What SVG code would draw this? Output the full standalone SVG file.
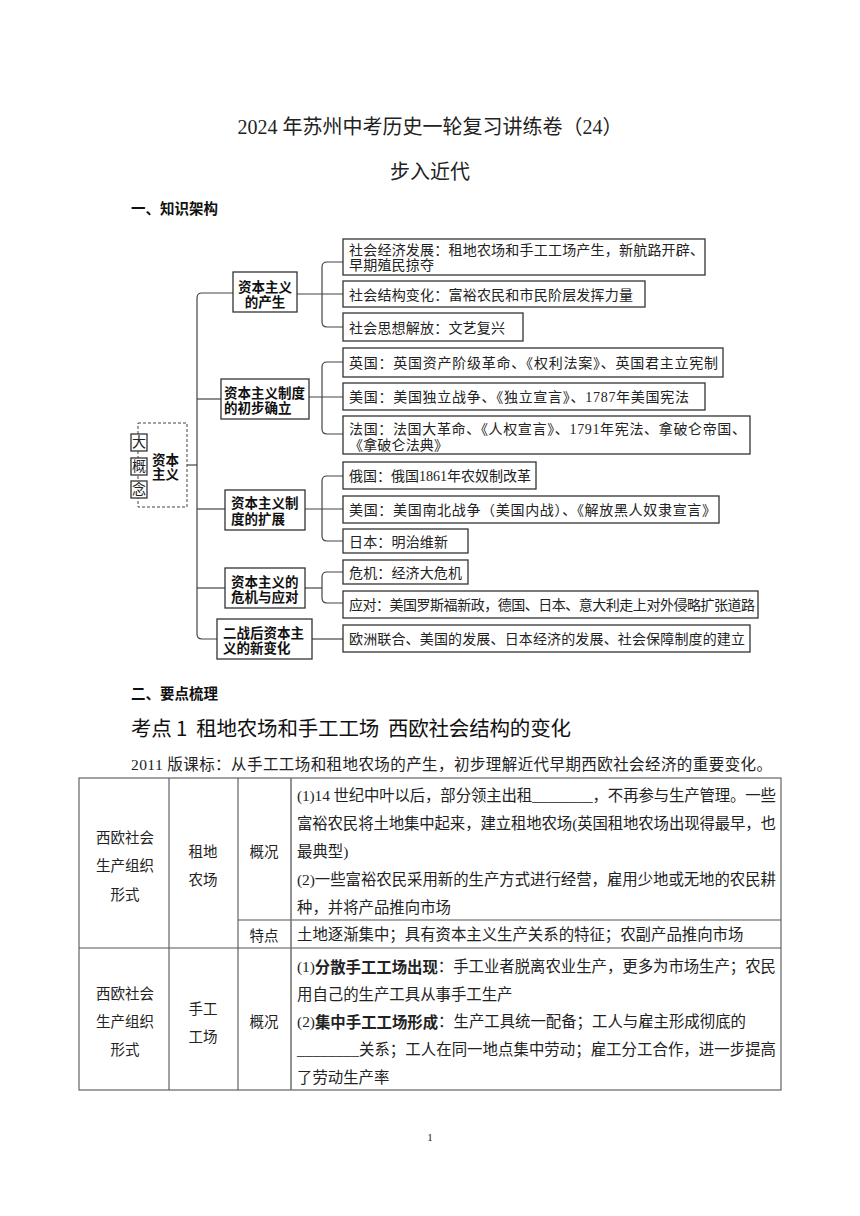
<svg xmlns="http://www.w3.org/2000/svg" width="860" height="1216" viewBox="0 0 860 1216">
<style>
.bg{fill:#fff}
.box{fill:#fff;stroke:#333;stroke-width:1.3}
.ln{fill:none;stroke:#444;stroke-width:1.2}
.dash{fill:none;stroke:#444;stroke-width:1;stroke-dasharray:3 2}
.pt{font-family:"Noto Sans CJK SC",sans-serif;font-weight:bold;font-size:13.5px;fill:#111;dominant-baseline:central}
.ct{font-family:"Liberation Serif","Noto Sans CJK SC",serif;font-size:14px;fill:#222;dominant-baseline:central}
.title{font-family:"Liberation Serif","Noto Sans CJK SC",serif;font-size:20px;fill:#222;dominant-baseline:central}
.h{font-family:"Noto Sans CJK SC",sans-serif;font-weight:bold;font-size:14.5px;fill:#111;dominant-baseline:central}
.kd{font-family:"Noto Sans CJK SC",sans-serif;font-size:20.5px;fill:#111;dominant-baseline:central}
.std{font-family:"Liberation Serif","Noto Sans CJK SC",serif;font-size:15.5px;fill:#222;dominant-baseline:central}
.tl{fill:none;stroke:#555;stroke-width:1.1}
.tc{font-family:"Noto Sans CJK SC",sans-serif;font-size:14.5px;fill:#222;dominant-baseline:central;text-anchor:middle}
.tx{font-family:"Liberation Serif","Noto Sans CJK SC",serif;font-size:15.4px;fill:#222;dominant-baseline:central}
.b{font-family:"Noto Sans CJK SC",sans-serif;font-weight:bold}
</style>
<rect class="bg" x="0" y="0" width="860" height="1216"/>

<g id="header">
<text class="title" x="430" y="127" text-anchor="middle">2024 年苏州中考历史一轮复习讲练卷（24）</text>
<text class="title" x="430" y="172" text-anchor="middle">步入近代</text>
<text class="h" x="131" y="207">一、知识架构</text>
</g>

<g id="connectors">
<path class="ln" d="M233,293 H202 Q197,293 197,298 V634 Q197,639 202,639 H217"/>
<path class="ln" d="M187,465 H197"/>
<path class="ln" d="M197,399 H221"/>
<path class="ln" d="M197,509 H225"/>
<path class="ln" d="M197,588 H225"/>
<path class="ln" d="M297,294 H343"/>
<path class="ln" d="M343,262 H327 Q322,262 322,267 V322 Q322,327 327,327 H343"/>
<path class="ln" d="M309,397 H343"/>
<path class="ln" d="M343,362 H327 Q322,362 322,367 V429 Q322,434 327,434 H343"/>
<path class="ln" d="M305,509 H343"/>
<path class="ln" d="M343,476 H327 Q322,476 322,481 V536 Q322,541 327,541 H343"/>
<path class="ln" d="M305,588 H322"/>
<path class="ln" d="M343,572 H327 Q322,572 322,577 V598 Q322,603 327,603 H343"/>
<path class="ln" d="M312,639 H343"/>
</g>

<g id="root">
<rect class="dash" x="138" y="423" width="49" height="84"/>
<rect class="box" x="131" y="434" width="16" height="17"/>
<rect class="box" x="131" y="458" width="16" height="17"/>
<rect class="box" x="131" y="481" width="16" height="17"/>
<text class="ct" x="139" y="442.5" text-anchor="middle">大</text>
<text class="ct" x="139" y="466.5" text-anchor="middle">概</text>
<text class="ct" x="139" y="489.5" text-anchor="middle">念</text>
<text class="pt" x="152" y="459">资本<tspan x="152" dy="14">主义</tspan></text>
</g>

<g id="p1">
<rect class="box" x="233" y="272" width="64" height="40"/>
<text class="pt" x="265" y="286" text-anchor="middle">资本主义<tspan x="265" dy="15">的产生</tspan></text>
</g>
<g id="p2">
<rect class="box" x="221" y="379" width="88" height="40"/>
<text class="pt" x="224" y="392">资本主义制度<tspan x="224" dy="15">的初步确立</tspan></text>
</g>
<g id="p3">
<rect class="box" x="225" y="490" width="80" height="40"/>
<text class="pt" x="231" y="502">资本主义制<tspan x="231" dy="16">度的扩展</tspan></text>
</g>
<g id="p4">
<rect class="box" x="225" y="568" width="80" height="40"/>
<text class="pt" x="231" y="581">资本主义的<tspan x="231" dy="15">危机与应对</tspan></text>
</g>
<g id="p5">
<rect class="box" x="217" y="619" width="95" height="40"/>
<text class="pt" x="223" y="632">二战后资本主<tspan x="223" dy="15">义的新变化</tspan></text>
</g>

<g id="c1">
<rect class="box" x="343" y="239" width="362" height="36"/>
<text class="ct" x="349" y="250"><tspan textLength="355" lengthAdjust="spacing">社会经济发展：租地农场和手工工场产生，新航路开辟、</tspan><tspan x="349" dy="15" textLength="85" lengthAdjust="spacing">早期殖民掠夺</tspan></text>
</g>
<g id="c2">
<rect class="box" x="343" y="281" width="302" height="26"/>
<text class="ct" x="349" y="295" textLength="284" lengthAdjust="spacing">社会结构变化：富裕农民和市民阶层发挥力量</text>
</g>
<g id="c3">
<rect class="box" x="343" y="313" width="180" height="28"/>
<text class="ct" x="349" y="328" textLength="156" lengthAdjust="spacing">社会思想解放：文艺复兴</text>
</g>
<g id="c4">
<rect class="box" x="343" y="348" width="380" height="29"/>
<text class="ct" x="349" y="363" textLength="369" lengthAdjust="spacing">英国：英国资产阶级革命、《权利法案》、英国君主立宪制</text>
</g>
<g id="c5">
<rect class="box" x="343" y="383" width="362" height="27"/>
<text class="ct" x="349" y="397" textLength="340" lengthAdjust="spacing">美国：美国独立战争、《独立宣言》、1787年美国宪法</text>
</g>
<g id="c6">
<rect class="box" x="343" y="416" width="407" height="38"/>
<text class="ct" x="349" y="429"><tspan textLength="397" lengthAdjust="spacing">法国：法国大革命、《人权宣言》、1791年宪法、拿破仑帝国、</tspan><tspan x="349" dy="16" textLength="99" lengthAdjust="spacing">《拿破仑法典》</tspan></text>
</g>
<g id="c7">
<rect class="box" x="343" y="462" width="193" height="27"/>
<text class="ct" x="349" y="476" textLength="182" lengthAdjust="spacing">俄国：俄国1861年农奴制改革</text>
</g>
<g id="c8">
<rect class="box" x="343" y="496" width="376" height="27"/>
<text class="ct" x="349" y="510" textLength="367" lengthAdjust="spacing">美国：美国南北战争（美国内战）、《解放黑人奴隶宣言》</text>
</g>
<g id="c9">
<rect class="box" x="343" y="529" width="125" height="24"/>
<text class="ct" x="349" y="542" textLength="99" lengthAdjust="spacing">日本：明治维新</text>
</g>
<g id="c10">
<rect class="box" x="343" y="560" width="125" height="24"/>
<text class="ct" x="349" y="573" textLength="113" lengthAdjust="spacing">危机：经济大危机</text>
</g>
<g id="c11">
<rect class="box" x="343" y="591" width="415" height="27"/>
<text class="ct" x="349" y="605" textLength="406" lengthAdjust="spacing">应对：美国罗斯福新政，德国、日本、意大利走上对外侵略扩张道路</text>
</g>
<g id="c12">
<rect class="box" x="343" y="625" width="407" height="27"/>
<text class="ct" x="349" y="639" textLength="396" lengthAdjust="spacing">欧洲联合、美国的发展、日本经济的发展、社会保障制度的建立</text>
</g>

<g id="section2">
<text class="h" x="131" y="692">二、要点梳理</text>
<text class="kd" x="131" y="727" textLength="440" lengthAdjust="spacing" xml:space="preserve">考点 1  租地农场和手工工场  西欧社会结构的变化</text>
<text class="std" x="131" y="764" textLength="641" lengthAdjust="spacing">2011 版课标：从手工工场和租地农场的产生，初步理解近代早期西欧社会经济的重要变化。</text>
</g>

<g id="table">
<rect class="tl" x="79" y="778" width="702" height="312"/>
<path class="tl" d="M169,778 V1090 M238,778 V1090 M79,948 H781 M238,920 H781"/>
<path class="tl" d="M291,778 V1090" style="stroke-width:1.6;stroke:#777"/>
<text class="tc" x="125" y="836">西欧社会</text>
<text class="tc" x="125" y="864">生产组织</text>
<text class="tc" x="125" y="893">形式</text>
<text class="tc" x="203" y="850">租地</text>
<text class="tc" x="203" y="878">农场</text>
<text class="tc" x="264" y="850">概况</text>
<text class="tc" x="264" y="934">特点</text>
<text class="tx" x="297" y="795" textLength="479" lengthAdjust="spacing">(1)14 世纪中叶以后，部分领主出租________，不再参与生产管理。一些</text>
<text class="tx" x="297" y="823" textLength="479" lengthAdjust="spacing">富裕农民将土地集中起来，建立租地农场(英国租地农场出现得最早，也</text>
<text class="tx" x="297" y="851">最典型)</text>
<text class="tx" x="297" y="879" textLength="479" lengthAdjust="spacing">(2)一些富裕农民采用新的生产方式进行经营，雇用少地或无地的农民耕</text>
<text class="tx" x="297" y="907">种，并将产品推向市场</text>
<text class="tx" x="297" y="934">土地逐渐集中；具有资本主义生产关系的特征；农副产品推向市场</text>

<text class="tc" x="125" y="992">西欧社会</text>
<text class="tc" x="125" y="1020">生产组织</text>
<text class="tc" x="125" y="1048">形式</text>
<text class="tc" x="203" y="1007">手工</text>
<text class="tc" x="203" y="1035">工场</text>
<text class="tc" x="264" y="1020">概况</text>
<text class="tx" x="297" y="966" textLength="479" lengthAdjust="spacing">(1)<tspan class="b">分散手工工场出现</tspan>：手工业者脱离农业生产，更多为市场生产；农民</text>
<text class="tx" x="297" y="994">用自己的生产工具从事手工生产</text>
<text class="tx" x="297" y="1021">(2)<tspan class="b">集中手工工场形成</tspan>：生产工具统一配备；工人与雇主形成彻底的</text>
<text class="tx" x="297" y="1049" textLength="479" lengthAdjust="spacing">________关系；工人在同一地点集中劳动；雇工分工合作，进一步提高</text>
<text class="tx" x="297" y="1077">了劳动生产率</text>
</g>

<text x="430" y="1137" text-anchor="middle" style="font-family:'Liberation Serif',serif;font-size:11px;fill:#222;dominant-baseline:central">1</text>
</svg>
